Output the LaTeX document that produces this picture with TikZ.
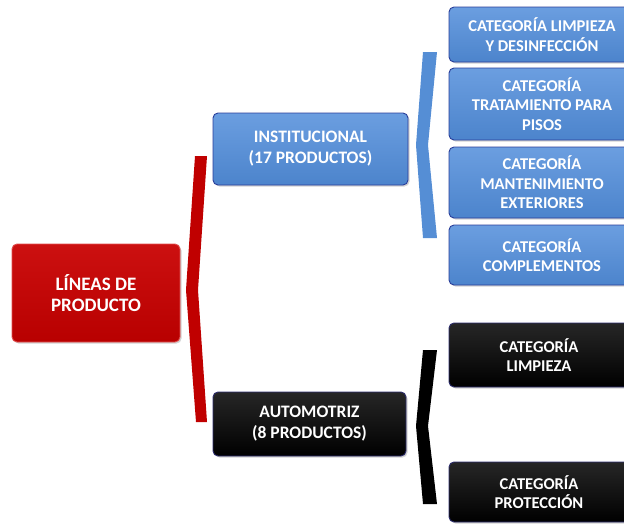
\documentclass[tikz,border=0pt]{standalone}
\usepackage{fontspec}
\setmainfont{Carlito}
\usetikzlibrary{shadows}
\definecolor{bluefill}{HTML}{558ED5}
\definecolor{bluetop}{HTML}{6B9EE0}
\definecolor{bluebot}{HTML}{4C84CC}
\definecolor{blueborder}{HTML}{2A3E9A}
\definecolor{redfill}{HTML}{C00000}
\definecolor{redtop}{HTML}{CC1010}
\definecolor{redbot}{HTML}{B80000}
\definecolor{redborder}{HTML}{E05050}
\definecolor{blackborder}{HTML}{2E2E6E}
\tikzset{
  box/.style={rounded corners=5pt, line width=0.9pt, align=center, text=white,
    font=\bfseries, inner sep=2pt, drop shadow={shadow xshift=1.5pt, shadow yshift=-1.5pt, opacity=0.35}},
  bluebox/.style={box, draw=blueborder, top color=bluetop, bottom color=bluebot},
  redbox/.style={box, draw=redborder, top color=redtop, bottom color=redbot},
  blackbox/.style={box, draw=blackborder, top color=black!85, bottom color=black},
  catfont/.style={font=\fontsize{16.5}{19.5}\selectfont\bfseries},
  midfont/.style={font=\fontsize{17.5}{21}\selectfont\bfseries},
  rootfont/.style={font=\fontsize{19}{21}\selectfont\bfseries},
}
\begin{document}
\begin{tikzpicture}[x=1pt,y=-1pt]
\useasboundingbox (0,0) rectangle (624,525);
% root
\node[redbox, rootfont, minimum width=168pt, minimum height=98pt] (root) at (96,293) {LÍNEAS DE\\PRODUCTO};
% level 2
\node[bluebox, midfont, minimum width=195pt, minimum height=72pt] (inst) at (310.5,149) {INSTITUCIONAL\\(17 PRODUCTOS)};
\node[blackbox, midfont, minimum width=193pt, minimum height=64pt] (auto) at (309.5,424) {AUTOMOTRIZ\\(8 PRODUCTOS)};
% categories institutional
\node[bluebox, catfont, minimum width=186pt, minimum height=55pt] (c1) at (542,34.5) {CATEGORÍA LIMPIEZA\\Y DESINFECCIÓN};
\node[bluebox, catfont, minimum width=186pt, minimum height=72pt] (c2) at (542,104) {CATEGORÍA\\TRATAMIENTO PARA\\PISOS};
\node[bluebox, catfont, minimum width=186pt, minimum height=71pt] (c3) at (542,182.5) {CATEGORÍA\\MANTENIMIENTO\\EXTERIORES};
\node[bluebox, catfont, minimum width=186pt, minimum height=60pt] (c4) at (542,255) {CATEGORÍA\\COMPLEMENTOS};
% categories automotive
\node[blackbox, catfont, minimum width=180pt, minimum height=64pt] (k1) at (539,355) {CATEGORÍA\\LIMPIEZA};
\node[blackbox, catfont, minimum width=180pt, minimum height=60pt] (k2) at (539,492) {CATEGORÍA\\PROTECCIÓN};
% braces
\fill[redfill] (195,156) -- (207,156) -- (198,290) -- (207,422) -- (196,422) -- (186,290) -- cycle;
\fill[bluefill] (423,52) -- (437,52) -- (428,145) -- (437,238) -- (423,238) -- (416,145) -- cycle;
\fill[black] (423,350) -- (437,350) -- (428,426) -- (437,504) -- (423,504) -- (416,426) -- cycle;
\end{tikzpicture}
\end{document}
